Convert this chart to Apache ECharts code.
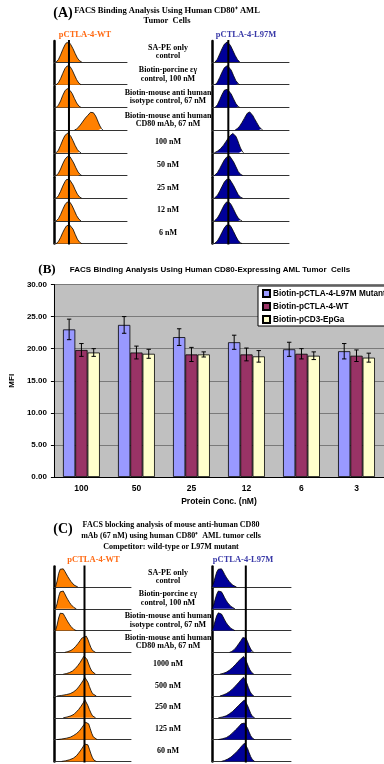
<!DOCTYPE html>
<html>
<head>
<meta charset="utf-8">
<script src="https://cdn.jsdelivr.net/npm/echarts@6/dist/echarts.min.js"></script>
<style>
  html, body { margin: 0; padding: 0; background: #fff; }
  #main { width: 384px; height: 764px; }
</style>
</head>
<body>
<div id="main"></div>
<script>
// ---- panel B: MFI bars ----
const concLabels = ['100', '50', '25', '12', '6', '3'];
const mfiL97M = [23.0, 23.7, 21.8, 21.0, 19.9, 19.6];
const errL97M = [1.6, 1.3, 1.3, 1.1, 1.1, 1.2];
const mfiWT = [19.8, 19.4, 19.1, 19.1, 19.2, 18.9];
const errWT = [1.0, 1.0, 1.1, 1.0, 0.8, 0.9];
const mfiEpGa = [19.4, 19.2, 19.1, 18.8, 18.9, 18.6];
const errEpGa = [0.6, 0.7, 0.4, 0.9, 0.6, 0.7];
const seriesNames = ['Biotin-pCTLA-4-L97M Mutant', 'Biotin-pCTLA-4-WT', 'Biotin-pCD3-EpGa'];

// ---- panels A / C: histogram outlines, x = channel 0..100, y = relative count ----
const histA_WT = [
  [[3,0],[6,0.12],[9,0.35],[12,0.62],[15,0.85],[17,0.95],[19,1.0],[21,0.96],[23,0.86],[26,0.66],[29,0.42],[32,0.2],[35,0.06],[38,0]],
  [[3,0],[6,0.1],[9,0.3],[12,0.56],[15,0.8],[18,0.93],[20,0.96],[22,0.9],[25,0.72],[28,0.48],[31,0.25],[34,0.08],[37,0]],
  [[3,0],[6,0.11],[9,0.32],[12,0.6],[15,0.82],[18,0.93],[20,0.9],[22,0.84],[25,0.68],[28,0.44],[31,0.22],[34,0.07],[37,0]],
  [[28,0],[31,0.06],[34,0.16],[37,0.3],[40,0.45],[43,0.6],[46,0.72],[48,0.8],[50,0.88],[51,0.82],[52,0.9],[54,0.86],[55,0.8],[57,0.7],[59,0.54],[61,0.36],[63,0.2],[65,0.08],[67,0]],
  [[3,0],[6,0.13],[9,0.37],[12,0.64],[15,0.86],[17,0.95],[19,0.98],[21,0.93],[23,0.82],[26,0.6],[29,0.36],[32,0.16],[35,0.04],[37,0]],
  [[3,0],[6,0.11],[9,0.32],[12,0.58],[15,0.8],[18,0.93],[20,0.97],[22,0.93],[24,0.84],[27,0.62],[30,0.38],[33,0.17],[36,0.05],[38,0]],
  [[3,0],[6,0.12],[9,0.34],[12,0.6],[15,0.82],[17,0.92],[19,0.95],[21,0.94],[23,0.86],[26,0.66],[29,0.42],[32,0.2],[35,0.06],[38,0]],
  [[3,0],[6,0.11],[9,0.31],[12,0.57],[15,0.8],[18,0.93],[20,0.98],[22,0.92],[25,0.74],[28,0.5],[31,0.26],[34,0.09],[37,0]],
  [[3,0],[6,0.1],[9,0.3],[12,0.55],[15,0.76],[17,0.87],[19,0.93],[21,0.94],[23,0.9],[26,0.72],[29,0.46],[32,0.22],[35,0.07],[38,0]]
];
const histA_L97M = [
  [[4,0],[7,0.14],[10,0.4],[13,0.66],[16,0.88],[18,0.97],[20,1.0],[22,0.94],[24,0.82],[27,0.58],[30,0.33],[33,0.13],[36,0]],
  [[4,0],[7,0.12],[10,0.36],[13,0.62],[16,0.84],[18,0.92],[20,0.95],[22,0.9],[25,0.72],[28,0.45],[31,0.2],[34,0.06],[36,0]],
  [[4,0],[7,0.13],[10,0.38],[13,0.64],[16,0.85],[18,0.92],[20,0.9],[22,0.84],[25,0.66],[28,0.42],[31,0.19],[34,0.05],[36,0]],
  [[30,0],[33,0.08],[36,0.2],[39,0.38],[42,0.58],[44,0.72],[46,0.84],[47,0.9],[48,0.86],[49,0.9],[51,0.84],[53,0.72],[55,0.58],[58,0.38],[61,0.18],[64,0.05],[66,0]],
  [[3,0],[7,0.08],[11,0.2],[15,0.38],[18,0.55],[21,0.72],[23,0.83],[25,0.92],[27,0.96],[29,0.93],[31,0.82],[33,0.65],[35,0.44],[37,0.24],[39,0.09],[41,0]],
  [[3,0],[7,0.14],[10,0.34],[13,0.56],[16,0.77],[19,0.91],[21,0.96],[23,0.96],[25,0.88],[28,0.68],[31,0.44],[34,0.2],[37,0.06],[40,0]],
  [[3,0],[7,0.14],[10,0.35],[13,0.58],[16,0.8],[19,0.93],[21,0.97],[23,0.94],[25,0.85],[28,0.63],[31,0.4],[34,0.18],[37,0.05],[40,0]],
  [[3,0],[7,0.14],[10,0.34],[13,0.58],[16,0.8],[19,0.94],[21,0.96],[23,0.9],[25,0.8],[28,0.58],[31,0.34],[34,0.14],[37,0.04],[39,0]],
  [[3,0],[7,0.13],[10,0.33],[13,0.56],[16,0.78],[19,0.92],[21,0.95],[23,0.92],[25,0.82],[28,0.6],[31,0.36],[34,0.15],[37,0.04],[39,0]]
];
const histC_WT = [
  [[2,0],[4,0.3],[6,0.68],[8,0.9],[10,1.0],[12,0.92],[14,0.8],[16,0.66],[18,0.52],[20,0.4],[22,0.28],[24,0.18],[26,0.1],[28,0.04],[31,0]],
  [[2,0],[4,0.26],[6,0.62],[8,0.86],[10,0.96],[12,0.9],[14,0.76],[16,0.6],[18,0.46],[20,0.33],[22,0.22],[24,0.13],[26,0.06],[29,0]],
  [[2,0],[4,0.28],[6,0.64],[8,0.88],[10,0.95],[12,0.86],[14,0.72],[16,0.58],[18,0.44],[20,0.32],[22,0.21],[24,0.12],[26,0.05],[29,0]],
  [[14,0],[18,0.04],[22,0.1],[25,0.18],[28,0.3],[31,0.44],[34,0.6],[36,0.72],[38,0.82],[39,0.78],[40,0.88],[42,0.82],[44,0.66],[46,0.44],[48,0.24],[50,0.1],[52,0.03],[54,0]],
  [[12,0],[16,0.03],[20,0.08],[24,0.16],[28,0.3],[31,0.44],[34,0.6],[37,0.8],[39,0.92],[41,0.9],[43,0.74],[45,0.52],[47,0.32],[49,0.16],[51,0.06],[54,0]],
  [[4,0],[10,0.03],[16,0.07],[21,0.12],[25,0.2],[29,0.32],[32,0.46],[35,0.62],[38,0.8],[40,0.95],[42,0.88],[44,0.7],[46,0.48],[48,0.28],[50,0.12],[52,0.04],[55,0]],
  [[12,0],[17,0.04],[22,0.1],[26,0.18],[29,0.3],[32,0.42],[35,0.58],[38,0.76],[40,0.92],[42,0.82],[44,0.62],[46,0.42],[48,0.24],[50,0.1],[52,0.03],[54,0]],
  [[4,0],[10,0.03],[16,0.07],[21,0.12],[25,0.2],[29,0.3],[33,0.44],[36,0.6],[39,0.76],[41,0.88],[43,0.95],[45,0.8],[47,0.56],[49,0.32],[51,0.14],[53,0.04],[56,0]],
  [[10,0],[15,0.03],[20,0.08],[25,0.16],[29,0.28],[32,0.42],[35,0.58],[38,0.76],[40,0.88],[42,0.9],[44,0.84],[46,0.62],[48,0.38],[50,0.18],[52,0.06],[55,0]]
];
const histC_L97M = [
  [[0,0],[2,0.2],[4,0.5],[6,0.76],[8,0.9],[10,0.98],[12,0.92],[14,0.8],[16,0.64],[18,0.5],[20,0.38],[22,0.27],[24,0.17],[26,0.1],[28,0.04],[31,0]],
  [[0,0],[2,0.18],[4,0.48],[6,0.74],[8,0.9],[10,0.95],[12,0.86],[14,0.72],[16,0.56],[18,0.42],[20,0.3],[22,0.2],[24,0.12],[26,0.06],[29,0]],
  [[0,0],[2,0.2],[4,0.5],[6,0.76],[8,0.9],[10,0.93],[12,0.84],[14,0.7],[16,0.54],[18,0.4],[20,0.29],[22,0.19],[24,0.11],[26,0.05],[29,0]],
  [[22,0],[25,0.05],[28,0.14],[31,0.28],[34,0.45],[37,0.62],[39,0.75],[40,0.72],[41,0.84],[43,0.72],[45,0.54],[47,0.34],[49,0.17],[51,0.06],[53,0]],
  [[10,0],[14,0.04],[18,0.1],[22,0.2],[26,0.34],[30,0.5],[33,0.64],[36,0.76],[38,0.86],[40,0.9],[42,0.78],[44,0.6],[46,0.4],[48,0.22],[50,0.1],[53,0]],
  [[10,0],[14,0.05],[18,0.12],[22,0.22],[26,0.36],[30,0.52],[34,0.7],[37,0.84],[40,0.95],[42,0.86],[44,0.66],[46,0.44],[48,0.24],[50,0.1],[53,0]],
  [[8,0],[13,0.04],[18,0.1],[22,0.2],[26,0.32],[30,0.48],[34,0.64],[37,0.76],[39,0.84],[41,0.9],[43,0.8],[45,0.62],[47,0.42],[49,0.22],[51,0.08],[54,0]],
  [[8,0],[13,0.04],[18,0.1],[22,0.2],[26,0.34],[30,0.5],[34,0.66],[37,0.8],[39,0.9],[41,0.84],[43,0.76],[45,0.58],[47,0.38],[49,0.2],[51,0.08],[54,0]],
  [[12,0],[16,0.05],[20,0.12],[24,0.22],[28,0.36],[32,0.52],[35,0.66],[38,0.8],[41,0.92],[43,0.84],[45,0.66],[47,0.44],[49,0.24],[51,0.1],[54,0]]
];
// marker (gate) channel per column: [WT, L97M]
const gateA = [20.5, 21.2];
const gateC = [39.6, 42.8];

const rowLabelsA = [
  ['SA-PE only', 'control'],
  ['Biotin-porcine εγ', 'control, 100 nM'],
  ['Biotin-mouse anti human', 'isotype control, 67 nM'],
  ['Biotin-mouse anti human', 'CD80 mAb, 67 nM'],
  ['100 nM'], ['50 nM'], ['25 nM'], ['12 nM'], ['6 nM']
];
const rowLabelsC = [
  ['SA-PE only', 'control'],
  ['Biotin-porcine εγ', 'control, 100 nM'],
  ['Biotin-mouse anti human', 'isotype control, 67 nM'],
  ['Biotin-mouse anti human', 'CD80 mAb, 67 nM'],
  ['1000 nM'], ['500 nM'], ['250 nM'], ['125 nM'], ['60 nM']
];

const ORANGE = '#ff8000';
const NAVY = '#000099';
const SERIF = '"Liberation Serif", "Times New Roman", serif';
const SANS = '"Liberation Sans", Arial, sans-serif';

const chart = echarts.init(document.getElementById('main'));

const grid = [];
const xAxis = [];
const yAxis = [];
const series = [];
const graphic = [];

// bar chart (grid 0)
grid.push({ left: 50, top: 284.5, right: -9.5, bottom: 287, show: true, backgroundColor: '#c0c0c0', borderWidth: 0 });
xAxis.push({
  gridIndex: 0, type: 'category', data: concLabels,
  axisLine: { lineStyle: { color: '#000', width: 1 } },
  axisTick: { length: 3, lineStyle: { color: '#000' } },
  axisLabel: { color: '#000', fontSize: 8.5, fontWeight: 'bold', fontFamily: SANS, margin: 7 },
  name: 'Protein Conc. (nM)', nameLocation: 'middle', nameGap: 20,
  nameTextStyle: { color: '#000', fontSize: 8.5, fontWeight: 'bold', fontFamily: SANS }
});
yAxis.push({
  gridIndex: 0, type: 'value', min: 0, max: 30, interval: 5,
  axisLine: { show: true, lineStyle: { color: '#000', width: 1 } },
  axisTick: { show: true, length: 3, lineStyle: { color: '#000' } },
  axisLabel: { color: '#000', fontSize: 8, fontWeight: 'bold', fontFamily: SANS, margin: 7, formatter: v => v.toFixed(2) },
  splitLine: { lineStyle: { color: '#7a7a7a', width: 1 } },
  name: 'MFI', nameLocation: 'middle', nameGap: 34, nameRotate: 90,
  nameTextStyle: { color: '#000', fontSize: 8, fontWeight: 'bold', fontFamily: SANS }
});

const barVals = [mfiL97M, mfiWT, mfiEpGa];
const barErrs = [errL97M, errWT, errEpGa];
const barColors = ['#9999ff', '#993366', '#ffffcc'];

barVals.forEach((vals, k) => {
  series.push({
    name: seriesNames[k], type: 'bar', xAxisIndex: 0, yAxisIndex: 0,
    data: vals, barGap: '0%', barCategoryGap: '33%',
    itemStyle: { color: barColors[k], borderColor: '#000', borderWidth: 0.8 },
    animation: false
  });
});

function errItem(k) {
  return function (params, api) {
    const i = api.value(0);
    const lo = api.coord([i, api.value(1)]);
    const hi = api.coord([i, api.value(2)]);
    const bw = api.size([1, 0])[0] * 0.67 / 3;
    const x = lo[0] + (k - 1) * bw;
    const cap = 2.2;
    const st = { stroke: '#000', lineWidth: 1 };
    return {
      type: 'group',
      children: [
        { type: 'line', shape: { x1: x, y1: lo[1], x2: x, y2: hi[1] }, style: st },
        { type: 'line', shape: { x1: x - cap, y1: lo[1], x2: x + cap, y2: lo[1] }, style: st },
        { type: 'line', shape: { x1: x - cap, y1: hi[1], x2: x + cap, y2: hi[1] }, style: st }
      ]
    };
  };
}

barVals.forEach((vals, k) => {
  series.push({
    name: 'err' + k, type: 'custom', xAxisIndex: 0, yAxisIndex: 0,
    renderItem: errItem(k), encode: { x: 0, y: [1, 2] },
    data: vals.map((v, i) => [i, v - barErrs[k][i], v + barErrs[k][i]]),
    z: 5, silent: true, animation: false
  });
});

// histogram columns
function addHistColumn(hists, left, width, base0, step, h, color, gate) {
  hists.forEach((pts, i) => {
    const idx = grid.length;
    const base = base0 + step * i;
    grid.push({ left: left, top: base - h, width: width, height: h });
    xAxis.push({
      gridIndex: idx, type: 'value', min: 0, max: 100,
      axisLine: { show: true, lineStyle: { color: '#333', width: 1 } },
      axisTick: { show: false }, axisLabel: { show: false }, splitLine: { show: false }
    });
    yAxis.push({
      gridIndex: idx, type: 'value', min: 0, max: 1.04,
      axisLine: { show: true, lineStyle: { color: '#000', width: 2.5 } },
      axisTick: { show: false }, axisLabel: { show: false }, splitLine: { show: false }
    });
    series.push({
      type: 'line', xAxisIndex: idx, yAxisIndex: idx, data: pts,
      symbol: 'none', lineStyle: { color: '#000', width: 0.8 },
      areaStyle: { color: color, opacity: 1 }, silent: true, animation: false, z: 2
    });
  });
  const idx = grid.length;
  const top = base0 - h - 1;
  const height = step * (hists.length - 1) + h + 2;
  grid.push({ left: left, top: top, width: width, height: height });
  xAxis.push({ gridIndex: idx, type: 'value', min: 0, max: 100, show: false });
  yAxis.push({ gridIndex: idx, type: 'value', min: 0, max: 1, show: false });
  series.push({
    type: 'line', xAxisIndex: idx, yAxisIndex: idx, data: [[gate, 0], [gate, 1]],
    symbol: 'none', lineStyle: { color: '#000', width: 2 }, silent: true, animation: false, z: 6
  });
}

addHistColumn(histA_WT, 54, 73, 62, 22.7, 21, ORANGE, gateA[0]);
addHistColumn(histA_L97M, 212, 77, 62, 22.7, 21, NAVY, gateA[1]);
addHistColumn(histC_WT, 54, 77, 587, 21.8, 20.5, ORANGE, gateC[0]);
addHistColumn(histC_L97M, 212, 79, 587, 21.8, 20.5, NAVY, gateC[1]);

// texts
function txt(s, x, y, size, opts) {
  opts = opts || {};
  graphic.push({
    type: 'text', x: x, y: y, silent: true,
    style: {
      text: s, fill: opts.color || '#000',
      fontSize: size, fontWeight: 'bold', fontFamily: opts.family || SERIF,
      align: opts.align || 'center', verticalAlign: 'middle',
      textAlign: opts.align || 'center', textVerticalAlign: 'middle'
    }
  });
}

function rowTexts(labels, base0, step) {
  labels.forEach((l, i) => {
    const base = base0 + step * i;
    if (l.length === 2) {
      txt(l[0], 168, base - 14.5, 8);
      txt(l[1], 168, base - 6, 8);
    } else {
      txt(l[0], 168, base - 10.5, 8);
    }
  });
}

txt('(A)', 63, 13, 14);
txt('FACS Binding Analysis Using Human CD80⁺ AML', 167, 10.7, 8.5);
txt('Tumor  Cells', 167, 21, 8.5);
txt('pCTLA-4-WT', 85, 34.3, 8.5, { color: '#ff6a13' });
txt('pCTLA-4-L97M', 246, 34.3, 8.5, { color: '#3a3aa8' });
rowTexts(rowLabelsA, 62, 22.7);

txt('(B)', 47, 270, 13);
txt('FACS Binding Analysis Using Human CD80-Expressing AML Tumor  Cells', 210, 270, 8, { family: SANS });

txt('(C)', 63, 529, 14);
txt('FACS blocking analysis of mouse anti-human CD80', 171, 525, 8);
txt('mAb (67 nM) using human CD80⁺  AML tumor cells', 171, 536, 8);
txt('Competitor: wild-type or L97M mutant', 171, 546.5, 8);
txt('pCTLA-4-WT', 93.5, 560, 8.5, { color: '#ff6a13' });
txt('pCTLA-4-L97M', 243, 560, 8.5, { color: '#3a3aa8' });
rowTexts(rowLabelsC, 587, 21.8);

chart.setOption({
  animation: false,
  backgroundColor: '#fff',
  grid: grid,
  xAxis: xAxis,
  yAxis: yAxis,
  legend: {
    data: seriesNames, orient: 'vertical', left: 258, top: 286,
    backgroundColor: '#fff', borderColor: '#000', borderWidth: 1,
    padding: [3, 4, 2, 4], itemWidth: 7, itemHeight: 7, itemGap: 4, icon: 'rect',
    textStyle: { color: '#000', fontSize: 8.2, fontWeight: 'bold', fontFamily: SANS, padding: [0, 0, 0, -2] },
    selectedMode: false
  },
  graphic: graphic,
  series: series
});
</script>
</body>
</html>
